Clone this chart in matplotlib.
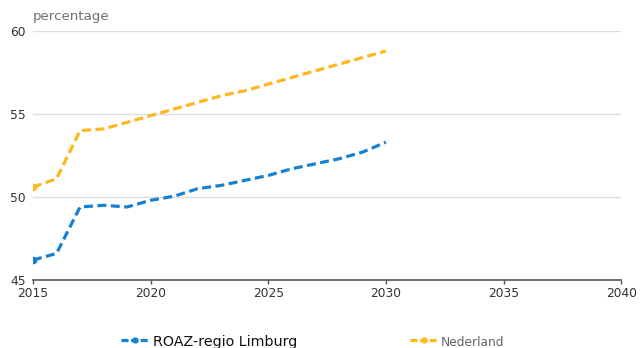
import matplotlib

matplotlib.use("Agg")

import matplotlib.pyplot as plt
from matplotlib.lines import Line2D

years = list(range(2015, 2031))
roaz_limburg = [46.2, 46.6, 49.4, 49.5, 49.4, 49.8, 50.05, 50.5, 50.7, 51.0,
                51.3, 51.7, 52.0, 52.3, 52.7, 53.3]
nederland = [50.6, 51.1, 54.0, 54.1, 54.5, 54.9, 55.3, 55.7, 56.1, 56.4,
             56.8, 57.2, 57.6, 58.0, 58.4, 58.8]
series_labels = ["ROAZ-regio Limburg", "Nederland"]
x_ticks = [2015, 2020, 2025, 2030, 2035, 2040]
y_ticks = [45, 50, 55, 60]

BLUE = "#1581d0"
ORANGE = "#fdb71f"

plt.rcParams["font.family"] = ["DejaVu Sans"]

fig = plt.figure(figsize=(6.41, 3.48), dpi=100)
ax = fig.add_axes([0.0515, 0.1954, 0.9175, 0.7155])

line_style = dict(linewidth=2.3, dashes=(2.8, 1.4), marker="o", markersize=4.5,
                  markevery=[0], solid_capstyle="butt", dash_capstyle="butt")
ax.plot(years, nederland, color=ORANGE, **line_style)
ax.plot(years, roaz_limburg, color=BLUE, **line_style)

ax.set_xlim(2015, 2040)
ax.set_ylim(45, 60)
ax.set_xticks(x_ticks)
ax.set_yticks(y_ticks)
ax.tick_params(axis="x", length=3, width=1, color="#555555", labelsize=8.8,
               labelcolor="#333333", pad=2)
ax.tick_params(axis="y", length=0, labelsize=8.8, labelcolor="#333333", pad=5)

for val in y_ticks[1:]:
    ax.axhline(val, color="#dddddd", linewidth=1, zorder=0)

for side in ("top", "right", "left"):
    ax.spines[side].set_visible(False)
ax.spines["bottom"].set_color("#555555")
ax.spines["bottom"].set_linewidth(1.2)

fig.text(0.0515, 0.952, "percentage", fontsize=9.6, color="#707070", ha="left", va="center")

# legend drawn by hand so it can sit partly below the figure edge
handles = [
    (0.188, 0.232, BLUE, 0.239, series_labels[0], 10.3, "#111111"),
    (0.64, 0.682, ORANGE, 0.688, series_labels[1], 8.8, "#666666"),
]
for x0, x1, color, tx, label, size, tcolor in handles:
    fig.add_artist(Line2D([x0, x1], [0.022, 0.022], transform=fig.transFigure,
                          color=color, linewidth=2.3, dashes=(2.2, 0.8)))
    fig.add_artist(Line2D([(x0 + x1) / 2], [0.022], transform=fig.transFigure,
                          color=color, marker="o", markersize=3.5))
    fig.text(tx, 0.016, label, fontsize=size, color=tcolor, ha="left", va="center")

fig.savefig("out.png", dpi=100)
